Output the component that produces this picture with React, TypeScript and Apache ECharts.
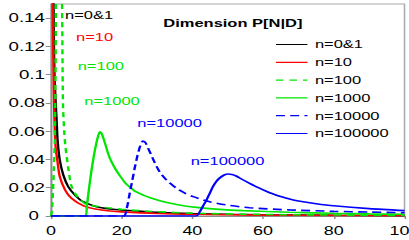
import React, { useEffect, useRef } from 'react';
import * as echarts from 'echarts';

// ---- data (x = dimension, y = probability) ----
const seriesNames = ['n=0&1', 'n=10', 'n=100', 'n=1000', 'n=10000', 'n=100000'];

const n01: number[][] = [
  [0.6, 0.2], [0.8, 0.13], [1.0, 0.1], [1.3, 0.082], [1.6, 0.068], [1.9, 0.053],
  [2.5, 0.0396], [3.5, 0.029], [4.9, 0.0207], [6.8, 0.0148], [9.1, 0.0101],
  [12.9, 0.0066], [16.7, 0.005], [20, 0.0042], [30, 0.0026], [40, 0.0017],
  [50, 0.0012], [60, 0.0009], [80, 0.0005], [100, 0.0003],
];
const n10: number[][] = [
  [0.35, 0.25], [0.5, 0.15], [0.8, 0.09], [1.0, 0.068], [1.15, 0.056], [1.4, 0.047],
  [1.8, 0.0396], [2.5, 0.0278], [4, 0.0184], [5.8, 0.0125], [9.1, 0.0073],
  [12.9, 0.0047], [16.7, 0.0035], [20, 0.0029], [30, 0.0018], [40, 0.0012],
  [60, 0.0006], [80, 0.0004], [100, 0.0002],
];
const n100: number[][] = [
  [0, 0], [0.3, 0.004], [0.7, 0.025], [1.1, 0.054], [1.3, 0.1], [1.5, 0.17],
  [2.3, 0.25], [3.1, 0.16], [3.4, 0.08], [3.8, 0.058], [4.15, 0.048], [4.9, 0.034],
  [5.7, 0.022], [6.8, 0.016], [8.2, 0.0118], [10, 0.0082], [13, 0.0068],
  [16, 0.0058], [20, 0.0048], [25, 0.0038], [30, 0.003], [40, 0.002],
  [60, 0.0011], [80, 0.0007], [100, 0.0004],
];
const n1000: number[][] = [
  [0, 0], [9.6, 0], [10.2, 0.008], [10.8, 0.02], [11.4, 0.031], [12.1, 0.042],
  [12.8, 0.051], [13.4, 0.057], [13.9, 0.0595], [14.4, 0.058], [15.3, 0.0514],
  [16.2, 0.044], [17.1, 0.0385], [18.3, 0.033], [19.5, 0.0285], [21, 0.0235],
  [22.3, 0.0205], [24, 0.0172], [26.1, 0.0148], [28.5, 0.0125], [30.8, 0.0108],
  [35.5, 0.0082], [41.2, 0.0061], [47.7, 0.0047], [54.3, 0.0038], [67.5, 0.0026],
  [80, 0.0019], [90, 0.0015], [100, 0.0012],
];
const n10000: number[][] = [
  [0, 0], [20.5, 0], [21.4, 0.005], [22.2, 0.015], [23, 0.025], [23.7, 0.034],
  [24.5, 0.043], [25.3, 0.05], [26, 0.053], [26.7, 0.052], [27.5, 0.048],
  [28.4, 0.043], [29.5, 0.037], [30.8, 0.031], [32.7, 0.0254], [35.5, 0.0196],
  [38, 0.016], [40.2, 0.0137], [44.9, 0.0101], [49.6, 0.0078], [56.2, 0.0058],
  [67.5, 0.0043], [80, 0.0033], [90, 0.0028], [100, 0.0023],
];
const n100000: number[][] = [
  [0, 0], [41, 0], [42.1, 0.003], [43, 0.007], [44, 0.0113], [45, 0.0165],
  [45.8, 0.0207], [46.8, 0.0245], [47.7, 0.0268], [49, 0.029], [50.1, 0.0297],
  [51.2, 0.0294], [52.4, 0.0283], [54, 0.026], [56.2, 0.0231], [58.5, 0.0202],
  [60.9, 0.0175], [64, 0.0145], [67.5, 0.012], [70, 0.0106], [75, 0.0087],
  [80, 0.0072], [90, 0.0052], [100, 0.0038],
];

const seriesData = [n01, n10, n100, n1000, n10000, n100000];
const seriesColors = ['#000000', '#ff0000', '#00e600', '#00e600', '#0000ff', '#0000ff'];
const seriesDash: (string | number[])[] = ['solid', 'solid', [5, 4], 'solid', [6, 3.5], 'solid'];

const titleText = 'Dimension P[N|D]';

const FONT = '"Liberation Sans", Arial, Helvetica, sans-serif';
const W = 273; // unscaled chart width; stretched horizontally to 409
const S = 409 / W;

export default function App() {
  const ref = useRef<HTMLDivElement>(null);
  useEffect(() => {
    if (!ref.current) return;
    const chart = echarts.init(ref.current, undefined, { renderer: 'svg' });
    const annot = (text: string, x: number, y: number, color: string) => ({
      type: 'text',
      x,
      y,
      z: 100,
      style: { text, fill: color, fontSize: 11, fontFamily: FONT, verticalAlign: 'middle', align: 'left' },
    });
    chart.setOption({
      animation: false,
      backgroundColor: '#ffffff',
      title: {
        text: titleText,
        left: 109,
        top: 18,
        padding: 0,
        textStyle: { fontSize: 11, fontWeight: 'bold', fontFamily: FONT, color: '#000' },
      },
      legend: {
        orient: 'vertical',
        left: 183.6,
        top: 39,
        itemWidth: 21,
        itemHeight: 12,
        itemGap: 6.8,
        padding: 0,
        selectedMode: false,
        itemStyle: { opacity: 0 },
        lineStyle: { width: 1.2 },
        textStyle: { fontSize: 11, fontFamily: FONT, color: '#000' },
        data: seriesNames,
      },
      grid: {
        left: 34,
        right: 3,
        top: 4,
        bottom: 24,
        show: true,
        borderColor: '#a8a8a8',
        borderWidth: 1,
        containLabel: false,
        outerBoundsMode: 'none',
      },
      xAxis: {
        type: 'value',
        min: 0,
        max: 100,
        interval: 20,
        axisLine: { show: true, lineStyle: { color: '#8c8c8c', width: 1 } },
        axisTick: { show: true, length: 3, lineStyle: { color: '#8c8c8c' } },
        splitLine: { show: false },
        axisLabel: { fontSize: 12, fontFamily: FONT, color: '#000', margin: 9 },
      },
      yAxis: {
        type: 'value',
        min: 0,
        max: 0.15,
        interval: 0.02,
        axisLine: { show: true, lineStyle: { color: '#8c8c8c', width: 1 } },
        axisTick: { show: true, length: 3.5, lineStyle: { color: '#8c8c8c' } },
        splitLine: { show: false },
        axisLabel: {
          showMaxLabel: false,
          fontSize: 12.5,
          fontFamily: FONT,
          color: '#000',
          margin: 4,
          formatter: (v: number) => (v === 0 ? '{z|0}' : String(+v.toFixed(2))),
          rich: { z: { padding: [0, 4, 0, 0], fontSize: 12.5, fontFamily: FONT, color: '#000' } },
        },
      },
      series: seriesData.map((d, i) => ({
        name: seriesNames[i],
        type: 'line',
        data: d,
        showSymbol: false,
        symbol: 'none',
        smooth: 0.25,
        clip: true,
        color: seriesColors[i],
        itemStyle: { color: seriesColors[i] },
        lineStyle: { color: seriesColors[i], width: 1.6, type: seriesDash[i] },
        z: 2 + i,
      })),
      graphic: [
        annot('n=0&1', 65 / S, 15, '#000000'),
        annot('n=10', 76 / S, 37, '#ff0000'),
        annot('n=100', 77.7 / S, 66, '#00e600'),
        annot('n=1000', 84.3 / S, 101, '#00e600'),
        annot('n=10000', 137.3 / S, 123.5, '#0000ff'),
        annot('n=100000', 190.7 / S, 161, '#0000ff'),
      ],
    });
    return () => chart.dispose();
  }, []);
  return (
    <div
      style={{
        position: 'absolute',
        left: 0,
        top: 0,
        width: 409,
        height: 240,
        overflow: 'hidden',
        background: '#fff',
      }}
    >
      <div
        ref={ref}
        style={{ width: W, height: 240, transform: `scaleX(${S})`, transformOrigin: '0 0' }}
      />
    </div>
  );
}
